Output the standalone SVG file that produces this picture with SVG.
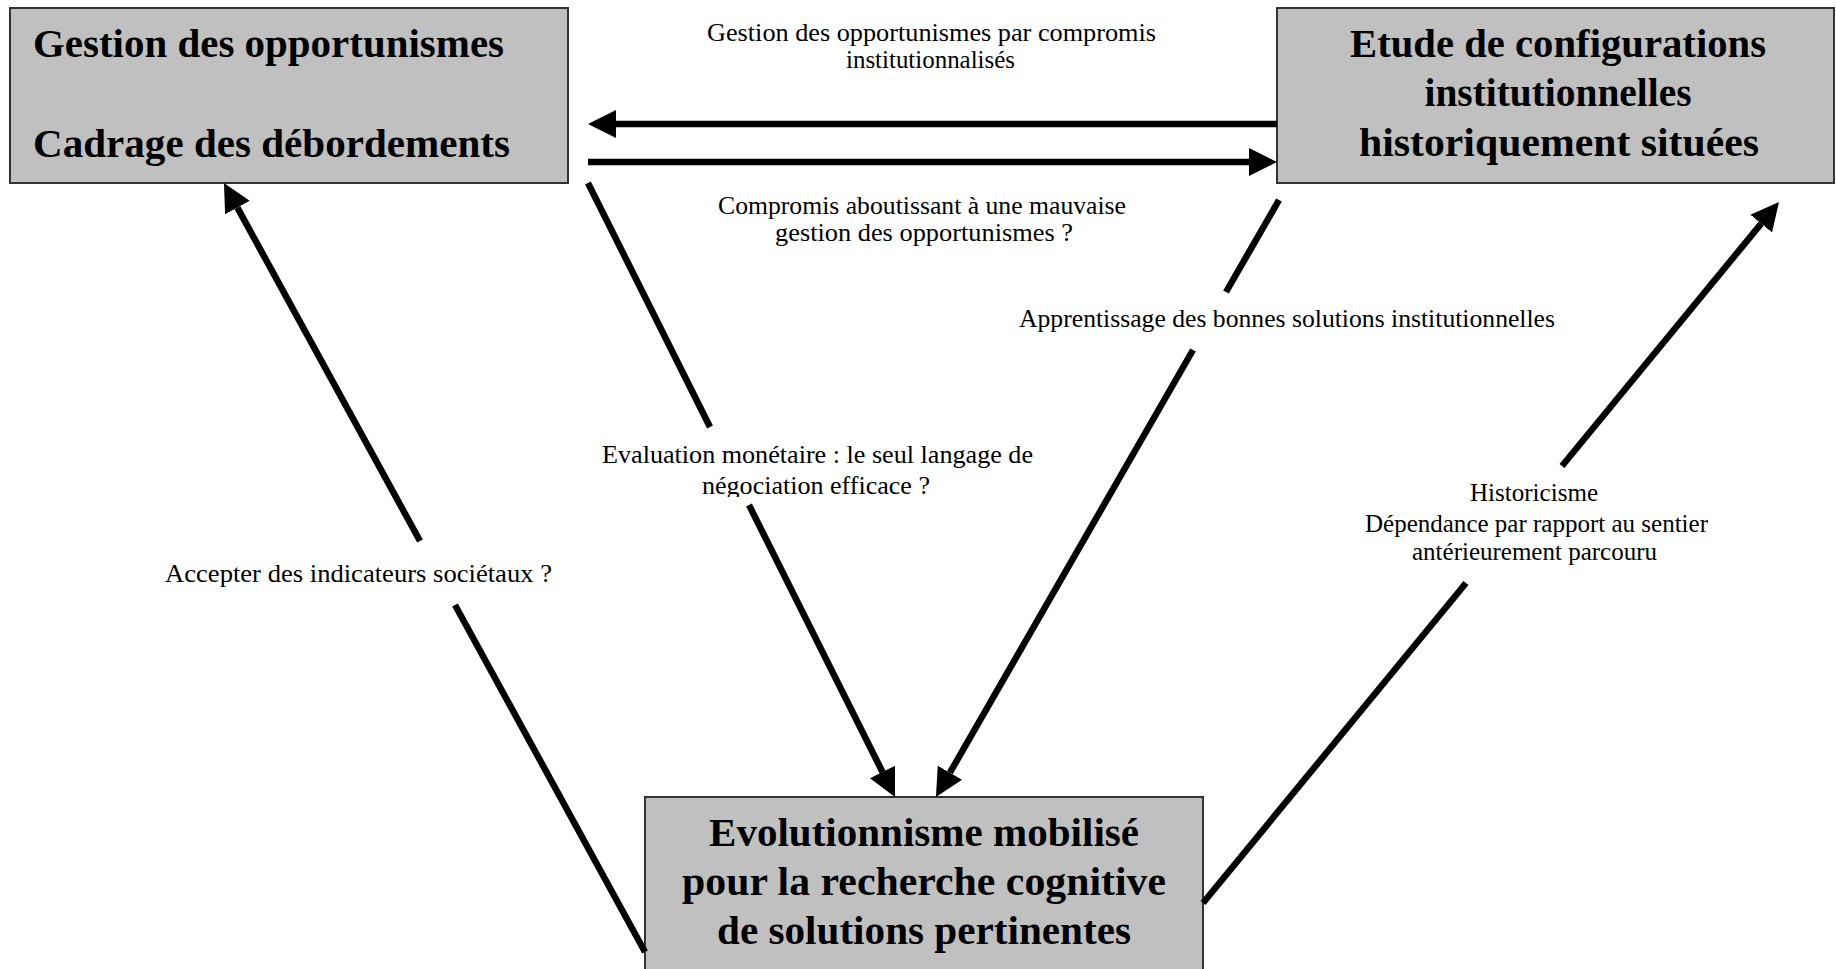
<svg xmlns="http://www.w3.org/2000/svg" width="1836" height="969" viewBox="0 0 1836 969">
<style>
.box{fill:#c0c0c0;stroke:#333;stroke-width:2}
.title{font-family:"Liberation Serif","Times New Roman",serif;font-weight:bold;font-size:41px;fill:#000}
.lbl{font-family:"Liberation Serif","Times New Roman",serif;font-size:25px;fill:#000}
.cond{font-size:26px}
.c{text-anchor:middle}
.ln{stroke:#000;stroke-width:6.5;fill:none}
</style>
<defs>
<marker id="ah" markerUnits="userSpaceOnUse" markerWidth="30" markerHeight="30" viewBox="0 -15 30 30" refX="0" refY="0" orient="auto">
<path d="M0,-14 L28,0 L0,14 z" fill="#000"/>
</marker>
<clipPath id="clipEval"><rect x="560" y="430" width="520" height="67"/></clipPath>
</defs>
<rect width="1836" height="969" fill="#fff"/>

<g id="node-gestion">
<rect class="box" x="10" y="8" width="558" height="175"/>
<text class="title" x="33" y="57" textLength="471" lengthAdjust="spacingAndGlyphs">Gestion des opportunismes</text>
<text class="title" x="33" y="157" textLength="477" lengthAdjust="spacingAndGlyphs">Cadrage des débordements</text>
</g>

<g id="node-etude">
<rect class="box" x="1277" y="8" width="557" height="175"/>
<text class="title c" x="1558" y="57" textLength="416" lengthAdjust="spacingAndGlyphs">Etude de configurations</text>
<text class="title c" x="1558" y="106" textLength="267" lengthAdjust="spacingAndGlyphs">institutionnelles</text>
<text class="title c" x="1559" y="156" textLength="400" lengthAdjust="spacingAndGlyphs">historiquement situées</text>
</g>

<g id="node-evolution">
<rect class="box" x="645" y="797" width="558" height="185"/>
<text class="title c" x="924" y="846" textLength="430" lengthAdjust="spacingAndGlyphs">Evolutionnisme mobilisé</text>
<text class="title c" x="924" y="895" textLength="484" lengthAdjust="spacingAndGlyphs">pour la recherche cognitive</text>
<text class="title c" x="924" y="944" textLength="414" lengthAdjust="spacingAndGlyphs">de solutions pertinentes</text>
</g>

<g id="connectors">
<line class="ln" x1="1277" y1="124" x2="616" y2="124" marker-end="url(#ah)"/>
<line class="ln" x1="588" y1="162" x2="1249" y2="162" marker-end="url(#ah)"/>
<line class="ln" x1="588" y1="183" x2="710" y2="427"/>
<line class="ln" x1="749" y1="505" x2="882.5" y2="772" marker-end="url(#ah)"/>
<line class="ln" x1="1279" y1="200" x2="1226" y2="292"/>
<line class="ln" x1="1193" y1="350" x2="949.9" y2="772.7" marker-end="url(#ah)"/>
<line class="ln" x1="645" y1="952" x2="455" y2="605"/>
<line class="ln" x1="420" y1="541" x2="237.4" y2="207.6" marker-end="url(#ah)"/>
<line class="ln" x1="1203" y1="903" x2="1466" y2="583"/>
<line class="ln" x1="1562" y1="466" x2="1761.2" y2="223.6" marker-end="url(#ah)"/>
</g>

<g id="labels">
<text class="lbl cond c" x="931.5" y="41" textLength="449" lengthAdjust="spacingAndGlyphs">Gestion des opportunismes par compromis</text>
<text class="lbl cond c" x="930.5" y="68" textLength="169" lengthAdjust="spacingAndGlyphs">institutionnalisés</text>
<text class="lbl cond c" x="922" y="214" textLength="408" lengthAdjust="spacingAndGlyphs">Compromis aboutissant à une mauvaise</text>
<text class="lbl cond c" x="924" y="241" textLength="298" lengthAdjust="spacingAndGlyphs">gestion des opportunismes ?</text>
<text class="lbl cond c" x="1287" y="327" textLength="536" lengthAdjust="spacingAndGlyphs">Apprentissage des bonnes solutions institutionnelles</text>
<g clip-path="url(#clipEval)">
<text class="lbl c" x="817.5" y="463" textLength="431" lengthAdjust="spacingAndGlyphs">Evaluation monétaire : le seul langage de</text>
<text class="lbl c" x="816" y="494" textLength="228" lengthAdjust="spacingAndGlyphs">négociation efficace ?</text>
</g>
<text class="lbl c" x="358.5" y="582" textLength="387" lengthAdjust="spacingAndGlyphs">Accepter des indicateurs sociétaux ?</text>
<text class="lbl c" x="1534" y="501" textLength="128" lengthAdjust="spacingAndGlyphs">Historicisme</text>
<text class="lbl c" x="1536.5" y="532" textLength="343" lengthAdjust="spacingAndGlyphs">Dépendance par rapport au sentier</text>
<text class="lbl c" x="1534.5" y="560" textLength="245" lengthAdjust="spacingAndGlyphs">antérieurement parcouru</text>
</g>
</svg>
